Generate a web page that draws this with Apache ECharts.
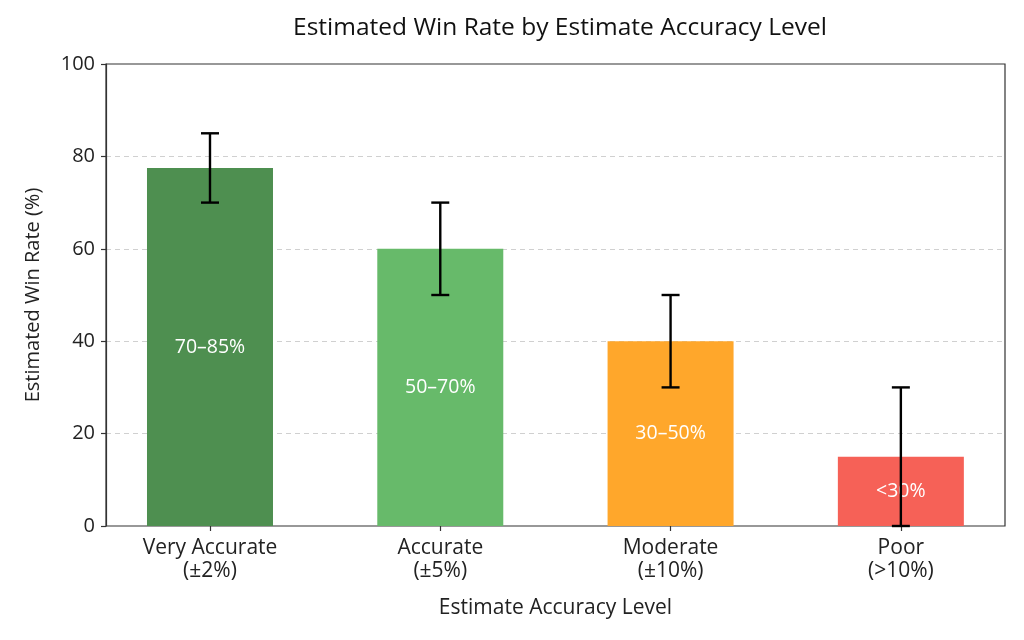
<!DOCTYPE html>
<html>
<head>
<meta charset="utf-8">
<script src="https://cdn.jsdelivr.net/npm/echarts@6/dist/echarts.min.js"></script>
<style>
  html, body { margin: 0; padding: 0; background: #fff; }
  #chart { width: 1024px; height: 640px; }
</style>
</head>
<body>
<div id="chart"></div>
<script>
// data
var categories = ['Very Accurate\n(±2%)', 'Accurate\n(±5%)', 'Moderate\n(±10%)', 'Poor\n(>10%)'];
var winRates = [77.5, 60, 40, 15];
var lowBounds = [70, 50, 30, 0];
var highBounds = [85, 70, 50, 30];
var rangeLabels = ['70–85%', '50–70%', '30–50%', '<30%'];
var barColors = ['#4e8f50', '#67ba6a', '#ffa72b', '#f66157'];
var yTicks = [0, 20, 40, 60, 80, 100];

var FONT = '"Open Sans", "Noto Sans", sans-serif';

var chart = echarts.init(document.getElementById('chart'));

var barData = winRates.map(function (v, i) {
    return { value: v, itemStyle: { color: barColors[i] } };
});
var errData = categories.map(function (c, i) {
    return [i, lowBounds[i], highBounds[i]];
});

var option = {
    backgroundColor: '#fff',
    textStyle: { fontFamily: FONT },
    title: {
        text: 'Estimated Win Rate by Estimate Accuracy Level',
        left: 555, top: 11, textAlign: 'center',
        textStyle: { fontFamily: FONT, fontSize: 24.5, fontWeight: 'normal', color: '#111' }
    },
    grid: [
        // frame + y axis
        { left: 106, right: 19, top: 64, bottom: 114, show: true,
          borderColor: '#333', borderWidth: 1.2, backgroundColor: 'transparent' },
        // bars, widened so category centres match the reference
        { left: 94.85, right: 8, top: 64, bottom: 114 }
    ],
    xAxis: [
        { gridIndex: 0, type: 'value', min: 0, max: 1, show: false },
        {
            gridIndex: 1, type: 'category', data: categories,
            axisLine: { show: false },
            axisTick: { show: true, alignWithLabel: true, length: 5, lineStyle: { color: '#333', width: 1.2 } },
            axisLabel: { fontFamily: FONT, fontSize: 21, color: '#222', lineHeight: 23, margin: 11 },
            name: 'Estimate Accuracy Level', nameLocation: 'middle', nameGap: 72,
            nameTextStyle: { fontFamily: FONT, fontSize: 21, color: '#222' }
        }
    ],
    yAxis: [
        {
            gridIndex: 0, type: 'value', min: yTicks[0], max: yTicks[yTicks.length - 1], interval: 20,
            axisLine: { show: true, lineStyle: { color: '#333', width: 1.2 } },
            axisTick: { show: true, length: 5, lineStyle: { color: '#333', width: 1.2 } },
            axisLabel: { fontFamily: FONT, fontSize: 20, color: '#222', margin: 11 },
            splitLine: { show: true, showMinLine: false, showMaxLine: false,
                         lineStyle: { color: '#d0d0d0', type: [5, 4], width: 1 } },
            name: 'Estimated Win Rate (%)', nameLocation: 'middle', nameGap: 63,
            nameTextStyle: { fontFamily: FONT, fontSize: 20, color: '#222' }
        },
        { gridIndex: 1, type: 'value', min: 0, max: 100, show: false }
    ],
    series: [
        {
            type: 'bar', xAxisIndex: 1, yAxisIndex: 1,
            data: barData, barWidth: 126,
            label: {
                show: true, position: 'inside',
                formatter: function (p) { return rangeLabels[p.dataIndex]; },
                fontFamily: FONT, fontSize: 19.5, color: '#fff'
            },
            z: 2
        },
        {
            type: 'custom', xAxisIndex: 1, yAxisIndex: 1,
            data: errData, z: 5,
            renderItem: function (params, api) {
                var x = api.value(0);
                var lo = api.coord([x, api.value(1)]);
                var hi = api.coord([x, api.value(2)]);
                var half = 9;
                var st = { stroke: '#000', lineWidth: 2.4 };
                return {
                    type: 'group',
                    children: [
                        { type: 'line', shape: { x1: lo[0], y1: lo[1], x2: hi[0], y2: hi[1] }, style: st },
                        { type: 'line', shape: { x1: hi[0] - half, y1: hi[1], x2: hi[0] + half, y2: hi[1] }, style: st },
                        { type: 'line', shape: { x1: lo[0] - half, y1: lo[1], x2: lo[0] + half, y2: lo[1] }, style: st }
                    ]
                };
            }
        }
    ]
};

chart.setOption(option);
</script>
</body>
</html>
